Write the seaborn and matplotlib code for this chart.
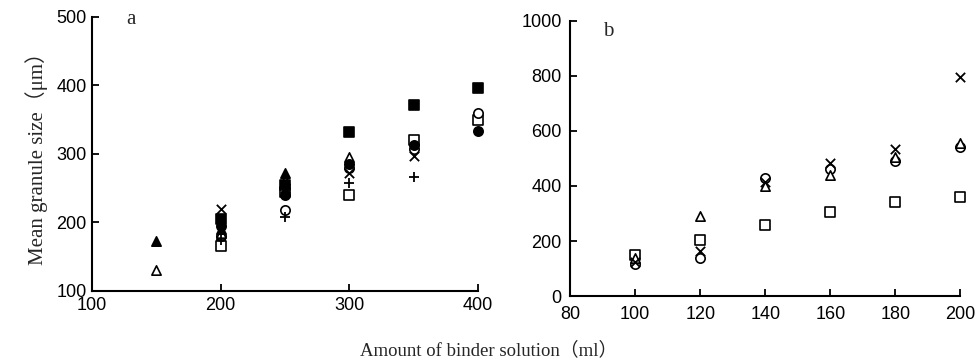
import matplotlib
matplotlib.use('Agg')
import matplotlib.pyplot as plt
import seaborn as sns
import pandas as pd

# panel a: binder amount (ml) vs mean granule size (um)
a_x_sq_filled = [200, 250, 300, 350, 400]
a_y_sq_filled = [205, 255, 332, 371, 397]
a_x_ci_filled = [200, 250, 300, 350, 400]
a_y_ci_filled = [195, 240, 285, 313, 333]
a_x_tri_filled = [150, 200, 250]
a_y_tri_filled = [173, 190, 272]
a_x_tri_open = [150, 200, 250, 300]
a_y_tri_open = [130, 185, 262, 295]
a_x_ci_open = [200, 250, 300, 350, 400]
a_y_ci_open = [180, 218, 280, 307, 360]
a_x_sq_open = [200, 250, 300, 350, 400]
a_y_sq_open = [165, 245, 240, 320, 350]
a_x_cross = [200, 250, 300, 350]
a_y_cross = [220, 250, 272, 297]
a_x_plus = [200, 250, 300, 350]
a_y_plus = [175, 208, 258, 267]

# panel b
b_x = [100, 120, 140, 160, 180, 200]
b_y_sq_open = [150, 205, 258, 305, 340, 360]
b_y_tri_open = [140, 290, 400, 440, 505, 555]
b_y_cross = [125, 165, 415, 485, 535, 795]
b_y_ci_open = [115, 140, 430, 460, 490, 540]

a_xticks = [100, 200, 300, 400]
a_yticks = [100, 200, 300, 400, 500]
b_xticks = [80, 100, 120, 140, 160, 180, 200]
b_yticks = [0, 200, 400, 600, 800, 1000]

sns.set_style('ticks')
serif = ['Liberation Serif', 'Noto Sans CJK JP']
plt.rcParams['font.family'] = ['Liberation Sans', 'DejaVu Sans']

fig = plt.figure(figsize=(9.78, 3.61), dpi=100)
ax1 = fig.add_axes([0.094, 0.194, 0.395, 0.759])
ax2 = fig.add_axes([0.583, 0.180, 0.399, 0.762])


def draw(ax, x, y, marker, filled):
    df = pd.DataFrame({'x': x, 'y': y})
    if marker in ('x', '+'):
        sns.scatterplot(data=df, x='x', y='y', ax=ax, marker=marker, color='black',
                        s=45, linewidth=1.3, zorder=3, clip_on=False)
    else:
        sns.scatterplot(data=df, x='x', y='y', ax=ax, marker=marker,
                        facecolor='black' if filled else 'white', edgecolor='black',
                        s=45, linewidth=1.2, zorder=3, clip_on=False)


draw(ax1, a_x_sq_open, a_y_sq_open, 's', False)
draw(ax1, a_x_ci_open, a_y_ci_open, 'o', False)
draw(ax1, a_x_tri_open, a_y_tri_open, '^', False)
draw(ax1, a_x_plus, a_y_plus, '+', True)
draw(ax1, a_x_cross, a_y_cross, 'x', True)
draw(ax1, a_x_ci_filled, a_y_ci_filled, 'o', True)
draw(ax1, a_x_tri_filled, a_y_tri_filled, '^', True)
draw(ax1, a_x_sq_filled, a_y_sq_filled, 's', True)

draw(ax2, b_x, b_y_sq_open, 's', False)
draw(ax2, b_x, b_y_ci_open, 'o', False)
draw(ax2, b_x, b_y_tri_open, '^', False)
draw(ax2, b_x, b_y_cross, 'x', True)

for ax, xt, yt in [(ax1, a_xticks, a_yticks), (ax2, b_xticks, b_yticks)]:
    ax.set_xlim(xt[0], xt[-1])
    ax.set_ylim(yt[0], yt[-1])
    ax.set_xticks(xt)
    ax.set_yticks(yt)
    ax.set_xlabel('')
    ax.set_ylabel('')
    sns.despine(ax=ax)
    for s in ['left', 'bottom']:
        ax.spines[s].set_linewidth(1.5)
        ax.spines[s].set_color('black')
    ax.tick_params(direction='in', length=5, width=1.3, labelsize=13, colors='black', pad=4)

# keep the "0" and "80" labels of panel b apart
ax2.tick_params(axis='x', pad=7)
ax2.tick_params(axis='y', pad=6)

ax1.set_ylabel('Mean granule size（μm）', family=serif, fontsize=15, labelpad=6)
ax1.text(0.10, 0.99, 'a', transform=ax1.transAxes, family=serif, fontsize=15,
         ha='center', va='center')
ax2.text(0.097, 0.96, 'b', transform=ax2.transAxes, family=serif, fontsize=15,
         ha='center', va='center')
fig.text(0.5, 0.03, 'Amount of binder solution（ml）', family=serif, fontsize=13.5,
         ha='center', va='center')

fig.savefig('out.png', dpi=100)
